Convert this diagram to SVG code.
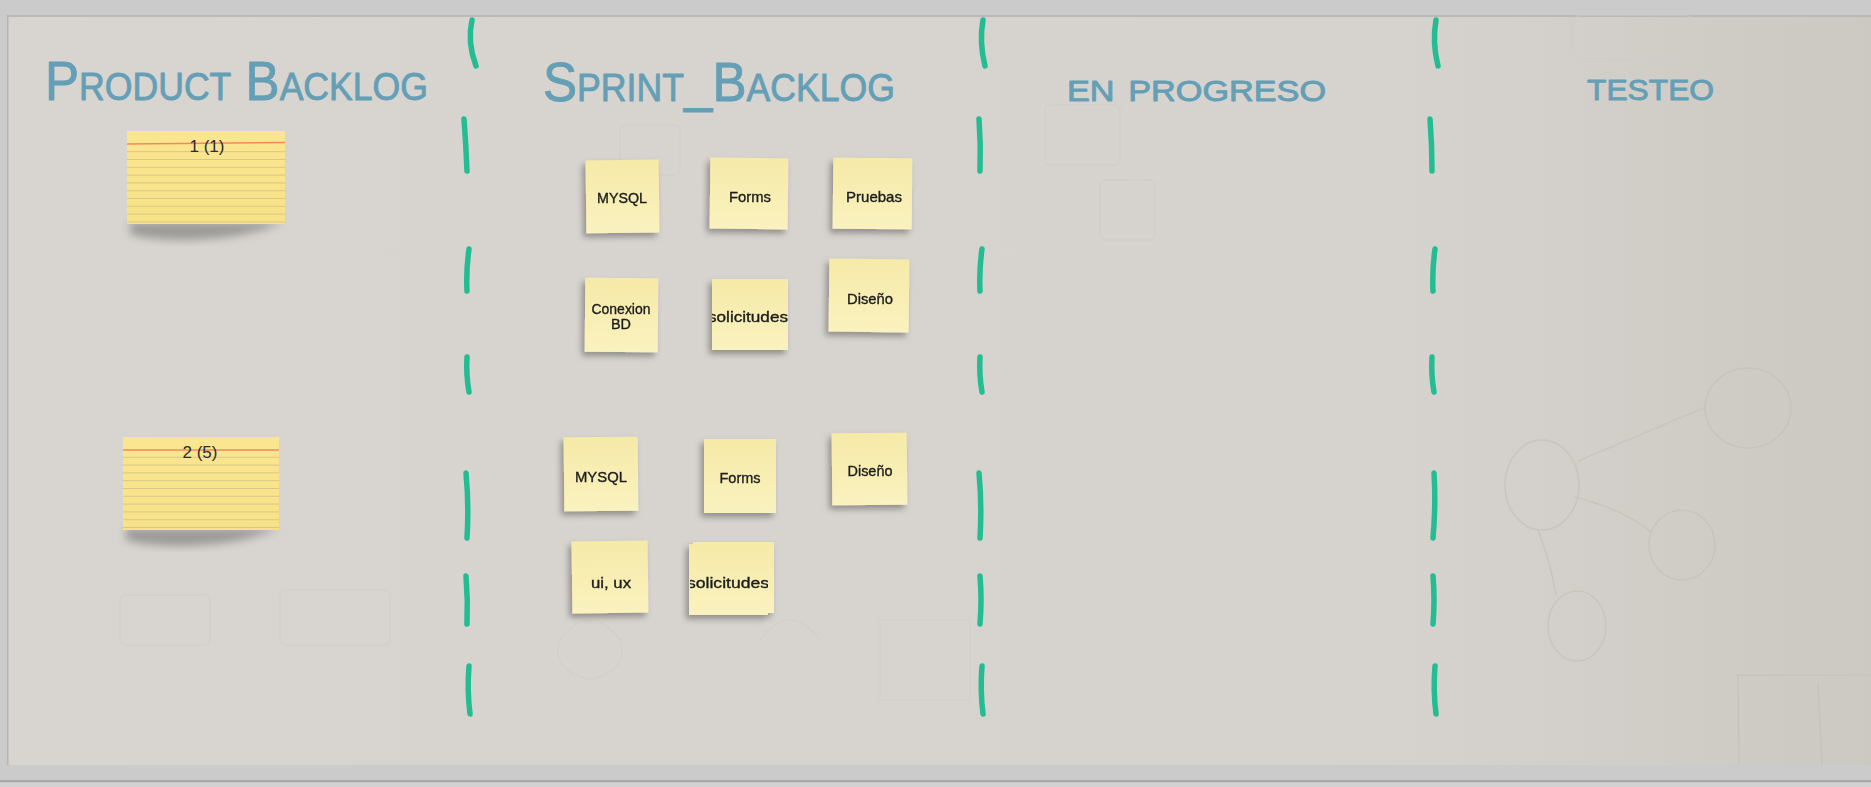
<svg xmlns="http://www.w3.org/2000/svg" width="1871" height="787" viewBox="0 0 1871 787">
<defs>
<style>
.hdr{font-family:"Liberation Sans","DejaVu Sans",sans-serif;font-variant:small-caps;fill:#649fb6;stroke:#649fb6;stroke-width:0.9;stroke-linejoin:round}
.dash{fill:none;stroke:#24bd93;stroke-width:5.5;stroke-linecap:round}
.sk{fill:none;stroke:#cfccc6;stroke-width:1.5}
.sk2{fill:none;stroke:#c6c3bd;stroke-width:1.6}
.note{fill:url(#noteG)}
.ntxt{font-family:"Liberation Sans Narrow","Liberation Sans",sans-serif;font-size:15px;fill:#1b1b1b;stroke:#1b1b1b;stroke-width:0.35;text-anchor:middle}
.ctxt{font-family:"Liberation Sans",Arial,sans-serif;font-size:17px;fill:#2a2a3a;text-anchor:middle}
.cline{stroke:#d6c889;stroke-width:1}
.rline{stroke:#f2895e;stroke-width:1.4}
</style>
<linearGradient id="board" x1="0" y1="0" x2="1" y2="0">
<stop offset="0" stop-color="#d8d5d0"/>
<stop offset="0.75" stop-color="#d6d3ce"/>
<stop offset="1" stop-color="#ccc8c2"/>
</linearGradient>
<linearGradient id="noteG" x1="0" y1="0" x2="0" y2="1">
<stop offset="0" stop-color="#f6eaa8"/>
<stop offset="1" stop-color="#faf2bf"/>
</linearGradient>
<linearGradient id="cardG" x1="0" y1="0" x2="0" y2="1">
<stop offset="0" stop-color="#fbe690"/>
<stop offset="1" stop-color="#f8e288"/>
</linearGradient>
<filter id="sh" x="-25%" y="-20%" width="150%" height="150%">
<feDropShadow dx="-3" dy="4" stdDeviation="3" flood-color="#000" flood-opacity="0.33"/>
</filter>
<filter id="blur" x="-30%" y="-30%" width="160%" height="160%">
<feGaussianBlur stdDeviation="4"/>
</filter>
<clipPath id="c5"><rect x="712" y="279" width="76" height="71"/></clipPath>
<clipPath id="c10"><rect x="690" y="543" width="78" height="71"/></clipPath>
</defs>

<!-- frame -->
<rect x="0" y="0" width="1871" height="787" fill="#cbcbcb"/>
<rect x="8" y="15" width="1863" height="750" fill="url(#board)"/>
<rect x="8" y="15" width="1863" height="2" fill="#b9b9b9"/>
<rect x="7" y="15" width="1.5" height="750" fill="#b5b5b5"/>
<rect x="0" y="780" width="1871" height="2.5" fill="#a9a9a9"/>
<rect x="0" y="782.5" width="1871" height="4.5" fill="#d2d2d2"/>

<!-- faint whiteboard sketches -->
<g id="sketches" opacity="0.55">
<rect class="sk" x="1573" y="15" width="120" height="45" rx="8"/>
<rect class="sk" x="280" y="590" width="110" height="55" rx="6"/>
<rect class="sk" x="120" y="595" width="90" height="50" rx="6"/>
<path class="sk" d="M560 640 q30 -40 60 0 q10 30 -30 40 q-40 -10 -30 -40 M760 640 q30 -40 60 0 M880 620 l90 0 l0 80 l-90 0 z"/>
<rect class="sk" x="620" y="125" width="60" height="50" rx="5"/>
<rect class="sk" x="1045" y="105" width="75" height="60" rx="5"/>
<rect class="sk" x="1100" y="180" width="55" height="60" rx="5"/>
</g>
<g id="sketches2" opacity="0.8">
<ellipse class="sk2" cx="1542" cy="485" rx="37" ry="45"/>
<ellipse class="sk2" cx="1748" cy="408" rx="43" ry="40"/>
<ellipse class="sk2" cx="1682" cy="545" rx="33" ry="35"/>
<ellipse class="sk2" cx="1577" cy="626" rx="29" ry="35"/>
<path class="sk2" d="M1578 461 L1706 407 M1575 497 Q1625 510 1651 532 M1538 530 Q1550 560 1556 595"/>
<path class="sk2" d="M1735 675 L1871 675 M1738 676 L1739 765 M1818 683 L1822 765"/>
</g>

<!-- column separators -->
<g id="connectors">
<path class="dash" d="M472 20 Q467 42 476 66"/>
<path class="dash" d="M464 119 Q466 145 467 171"/>
<path class="dash" d="M469 249 Q466 270 467 291"/>
<path class="dash" d="M467 357 Q466 375 469 392"/>
<path class="dash" d="M466 473 Q469 505 467 538"/>
<path class="dash" d="M466 576 Q468 600 467 624"/>
<path class="dash" d="M469 666 Q467 690 470 714"/>
<path class="dash" d="M983 20 Q979 42 985 66"/>
<path class="dash" d="M979 119 Q981 145 980 171"/>
<path class="dash" d="M982 249 Q979 270 980 291"/>
<path class="dash" d="M980 357 Q979 375 982 392"/>
<path class="dash" d="M979 473 Q982 505 980 538"/>
<path class="dash" d="M980 576 Q982 600 980 624"/>
<path class="dash" d="M982 666 Q980 690 983 714"/>
<path class="dash" d="M1436 20 Q1432 42 1438 66"/>
<path class="dash" d="M1430 119 Q1432 145 1432 171"/>
<path class="dash" d="M1435 249 Q1432 270 1433 291"/>
<path class="dash" d="M1432 357 Q1431 375 1434 392"/>
<path class="dash" d="M1434 473 Q1436 505 1433 538"/>
<path class="dash" d="M1433 576 Q1435 600 1433 624"/>
<path class="dash" d="M1435 666 Q1433 690 1436 714"/>
</g>

<!-- headers -->
<g id="h1"><text class="hdr" x="45" y="100" font-size="56" textLength="383" lengthAdjust="spacingAndGlyphs">Product Backlog</text></g>
<g id="h2"><text class="hdr" x="543" y="101" font-size="56" textLength="352" lengthAdjust="spacingAndGlyphs">Sprint_Backlog</text></g>
<g id="h3"><text class="hdr" x="1067" y="101" font-size="42" textLength="259" lengthAdjust="spacingAndGlyphs">en progreso</text></g>
<g id="h4"><text class="hdr" x="1587" y="100" font-size="42" textLength="127" lengthAdjust="spacingAndGlyphs">testeo</text></g>

<!-- index cards -->
<g id="card1">
<path d="M130 222 L282 222 Q250 238 190 240 Q150 240 130 234 Z" fill="#555" opacity="0.45" filter="url(#blur)"/>
<rect x="127" y="131" width="158" height="93" fill="url(#cardG)"/>
<path class="cline" d="M127 151.7H285M127 159.5H285M127 167.3H285M127 175.1H285M127 182.9H285M127 190.7H285M127 198.5H285M127 206.3H285M127 214.1H285M127 221.9H285"/>
<line class="rline" x1="127" y1="144" x2="285" y2="142.5"/>
<text class="ctxt" x="207" y="152">1 (1)</text>
</g>
<g id="card2">
<path d="M126 528 L277 528 Q245 544 185 546 Q145 546 126 540 Z" fill="#555" opacity="0.45" filter="url(#blur)"/>
<rect x="123" y="437" width="156" height="93" fill="url(#cardG)"/>
<path class="cline" d="M123 457.3H279M123 465.1H279M123 472.9H279M123 480.7H279M123 488.5H279M123 496.3H279M123 504.1H279M123 511.9H279M123 519.7H279M123 527.5H279"/>
<line class="rline" x1="123" y1="450" x2="279" y2="450"/>
<text class="ctxt" x="200" y="458">2 (5)</text>
</g>

<!-- sprint backlog sticky notes -->
<g id="n1" filter="url(#sh)"><rect class="note" x="586" y="160" width="73" height="73" transform="rotate(-0.6 622 196)"/><text class="ntxt" x="622" y="203" textLength="50" lengthAdjust="spacingAndGlyphs">MYSQL</text></g>
<g id="n2" filter="url(#sh)"><rect class="note" x="710" y="158" width="78" height="71" transform="rotate(0.6 749 193)"/><text class="ntxt" x="750" y="202" textLength="42" lengthAdjust="spacingAndGlyphs">Forms</text></g>
<g id="n3" filter="url(#sh)"><rect class="note" x="833" y="158" width="79" height="71" transform="rotate(0.5 872 193)"/><text class="ntxt" x="874" y="202" textLength="56" lengthAdjust="spacingAndGlyphs">Pruebas</text></g>
<g id="n4" filter="url(#sh)"><rect class="note" x="585" y="278" width="73" height="74" transform="rotate(0.4 621 315)"/><text class="ntxt" x="621" y="314" textLength="59" lengthAdjust="spacingAndGlyphs">Conexion</text><text class="ntxt" x="621" y="329" textLength="20" lengthAdjust="spacingAndGlyphs">BD</text></g>
<g id="n5" filter="url(#sh)"><rect class="note" x="712" y="279" width="76" height="71"/><text class="ntxt" x="748" y="322" textLength="80" lengthAdjust="spacingAndGlyphs" clip-path="url(#c5)">solicitudes</text></g>
<g id="n6" filter="url(#sh)"><rect class="note" x="829" y="259" width="80" height="73" transform="rotate(0.6 869 295)"/><text class="ntxt" x="870" y="304" textLength="46" lengthAdjust="spacingAndGlyphs">Diseño</text></g>
<g id="n7" filter="url(#sh)"><rect class="note" x="564" y="437" width="74" height="74" transform="rotate(-0.5 601 474)"/><text class="ntxt" x="601" y="482" textLength="52" lengthAdjust="spacingAndGlyphs">MYSQL</text></g>
<g id="n8" filter="url(#sh)"><rect class="note" x="704" y="439" width="72" height="74"/><text class="ntxt" x="740" y="483" textLength="41" lengthAdjust="spacingAndGlyphs">Forms</text></g>
<g id="n11" filter="url(#sh)"><rect class="note" x="832" y="433" width="75" height="72" transform="rotate(-0.5 869 469)"/><text class="ntxt" x="870" y="476" textLength="45" lengthAdjust="spacingAndGlyphs">Diseño</text></g>
<g id="n9" filter="url(#sh)"><rect class="note" x="572" y="541" width="76" height="72" transform="rotate(-0.7 610 577)"/><text class="ntxt" x="611" y="588" textLength="40" lengthAdjust="spacingAndGlyphs">ui, ux</text></g>
<g id="n10" filter="url(#sh)"><rect class="note" x="693" y="542" width="81" height="71"/><rect class="note" x="689" y="544" width="79" height="71"/><text class="ntxt" x="728" y="588" textLength="82" lengthAdjust="spacingAndGlyphs" clip-path="url(#c10)">solicitudes</text></g>
</svg>
